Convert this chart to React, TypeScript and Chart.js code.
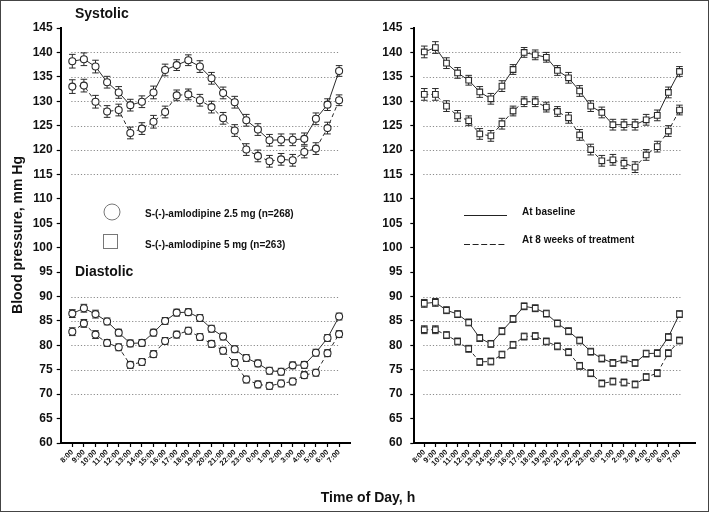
import React, { useEffect, useRef } from "react";
import { Chart, registerables } from "chart.js";
Chart.register(...registerables);

const HOURS = ["8:00","9:00","10:00","11:00","12:00","13:00","14:00","15:00","16:00","17:00","18:00","19:00","20:00","21:00","22:00","23:00","0:00","1:00","2:00","3:00","4:00","5:00","6:00","7:00"];

const LEFT_SYS_BASE = [138.2,138.6,137.1,133.9,131.8,129.2,129.9,131.8,136.4,137.4,138.4,137.1,134.7,131.7,129.8,126.1,124.2,122.0,122.1,122.1,122.3,126.4,129.3,136.2];
const LEFT_SYS_WK8 = [133.0,133.2,129.9,127.9,128.2,123.5,124.4,125.8,127.8,131.2,131.4,130.2,128.8,126.5,124.0,120.1,118.8,117.7,118.1,117.9,119.6,120.3,124.5,130.2];
const LEFT_DIA_BASE = [86.5,87.6,86.4,84.9,82.6,80.4,80.5,82.6,85.0,86.7,86.8,85.6,83.4,81.8,79.2,77.4,76.3,74.8,74.6,75.9,76.0,78.5,81.5,85.9];
const LEFT_DIA_WK8 = [82.8,84.5,82.2,80.5,79.6,76.0,76.6,78.2,80.9,82.2,83.0,81.7,80.3,78.9,76.4,73.0,72.0,71.7,72.2,72.6,73.9,74.4,78.4,82.3];

const RIGHT_SYS_BASE = [140.1,141.0,137.8,135.8,134.3,131.9,130.5,133.1,136.5,140.0,139.5,139.0,136.3,134.8,132.1,129.0,127.7,125.2,125.2,125.2,126.2,127.1,131.8,136.1];
const RIGHT_SYS_WK8 = [131.4,131.4,129.0,127.0,126.0,123.3,122.9,125.4,128.0,129.9,129.9,128.8,127.9,126.6,123.1,120.1,117.8,118.0,117.3,116.5,119.0,120.7,123.9,128.2];
const RIGHT_DIA_BASE = [88.6,88.8,87.2,86.4,84.7,81.5,80.3,82.9,85.4,88.0,87.6,86.5,84.5,82.9,81.0,78.7,77.3,76.4,77.1,76.4,78.3,78.4,81.7,86.4];
const RIGHT_DIA_WK8 = [83.2,83.2,82.1,80.8,79.3,76.6,76.7,78.1,80.1,81.8,81.9,80.8,79.8,78.6,75.8,74.3,72.2,72.6,72.4,72.0,73.5,74.3,78.4,81.0];

const LEFT_SYS_SE = [1.4,1.3,1.3,1.2,1.2,1.2,1.2,1.3,1.2,1.1,1.1,1.2,1.2,1.2,1.2,1.2,1.2,1.2,1.2,1.2,1.2,1.2,1.2,1.1];
const LEFT_DIA_SE = [0.8,0.8,0.8,0.7,0.7,0.7,0.7,0.7,0.7,0.7,0.7,0.7,0.7,0.7,0.7,0.7,0.7,0.7,0.7,0.7,0.7,0.7,0.7,0.7];
const RIGHT_SYS_SE = [1.2,1.2,1.1,1.1,1.0,1.1,1.1,1.1,1.0,1.0,1.0,1.0,1.0,1.1,1.1,1.1,1.1,1.1,1.1,1.1,1.1,1.1,1.1,1.0];
const RIGHT_DIA_SE = [0.8,0.8,0.7,0.7,0.7,0.7,0.7,0.7,0.7,0.7,0.7,0.7,0.7,0.7,0.7,0.7,0.7,0.7,0.7,0.7,0.7,0.7,0.7,0.7];

const Y_TICKS = [60,65,70,75,80,85,90,95,100,105,110,115,120,125,130,135,140,145];
const GRID_VALUES = [70,75,80,85,90,115,120,125,130,135,140];

const FONT = "'Liberation Sans', Arial, Helvetica, sans-serif";
const INK = "#2a2a2a";

const gridPlugin = {
  id: "dottedGrid",
  beforeDatasetsDraw(chart: any) {
    const { ctx } = chart;
    const xs = chart.scales.x;
    const ys = chart.scales.y;
    const x0 = xs.getPixelForValue(0) - 1;
    const x1 = xs.getPixelForValue(HOURS.length - 1) + 1;
    ctx.save();
    ctx.strokeStyle = "#8a8a8a";
    ctx.lineWidth = 1;
    ctx.setLineDash([1.2, 2]);
    for (const v of GRID_VALUES) {
      const y = Math.round(ys.getPixelForValue(v)) + 0.5;
      ctx.beginPath();
      ctx.moveTo(x0, y);
      ctx.lineTo(x1, y);
      ctx.stroke();
    }
    ctx.restore();
  },
};

const errorBarPlugin = {
  id: "errorBars",
  beforeDatasetsDraw(chart: any) {
    const { ctx } = chart;
    const xs = chart.scales.x;
    const ys = chart.scales.y;
    ctx.save();
    ctx.strokeStyle = INK;
    ctx.lineWidth = 1;
    chart.data.datasets.forEach((ds: any) => {
      const se: number[] = ds.se;
      ds.data.forEach((p: any, i: number) => {
        const x = xs.getPixelForValue(p.x);
        const yt = ys.getPixelForValue(p.y + se[i]);
        const yb = ys.getPixelForValue(p.y - se[i]);
        ctx.beginPath();
        ctx.moveTo(x, yt);
        ctx.lineTo(x, yb);
        ctx.moveTo(x - 3.3, yt);
        ctx.lineTo(x + 3.3, yt);
        ctx.moveTo(x - 3.3, yb);
        ctx.lineTo(x + 3.3, yb);
        ctx.stroke();
      });
    });
    ctx.restore();
  },
};

function makeDataset(values: number[], se: number[], dashed: boolean, style: string, radius: number) {
  return {
    data: values.map((v, i) => ({ x: i, y: v })),
    se,
    showLine: true,
    borderColor: INK,
    borderWidth: 1,
    borderDash: dashed ? [4, 3] : [],
    pointStyle: style,
    pointRadius: radius,
    pointBorderWidth: 1.1,
    pointBorderColor: INK,
    pointBackgroundColor: "#fff",
  };
}

function makeConfig(opts: {
  datasets: any[];
  yWidth: number;
  padRight: number;
  xMin: number;
  xMax: number;
  yPad: number;
  overlay: (ctx: CanvasRenderingContext2D) => void;
}) {
  return {
    type: "scatter",
    data: { datasets: opts.datasets },
    options: {
      animation: false,
      responsive: false,
      events: [],
      layout: { padding: { top: 28, left: 0, right: opts.padRight, bottom: 0 } },
      plugins: { legend: { display: false }, tooltip: { enabled: false } },
      scales: {
        x: {
          type: "linear",
          min: opts.xMin,
          max: opts.xMax,
          afterBuildTicks: (s: any) => {
            s.ticks = HOURS.map((_, i) => ({ value: i }));
          },
          afterFit: (s: any) => {
            s.height = 69;
          },
          ticks: {
            autoSkip: false,
            minRotation: 45,
            maxRotation: 45,
            padding: 1,
            color: "#111",
            font: { family: FONT, size: 7.5, weight: "bold" },
            callback: (v: number) => HOURS[Math.round(v)] ?? "",
          },
          grid: { drawOnChartArea: false, drawTicks: true, tickLength: 4, tickColor: "#000", tickWidth: 1.2 },
          border: { display: true, color: "#000", width: 2 },
        },
        y: {
          type: "linear",
          min: 60,
          max: 145,
          afterBuildTicks: (s: any) => {
            s.ticks = Y_TICKS.map((v) => ({ value: v }));
          },
          afterFit: (s: any) => {
            s.width = opts.yWidth;
          },
          ticks: {
            padding: opts.yPad,
            color: "#111",
            font: { family: FONT, size: 12, weight: "bold" },
          },
          grid: { drawOnChartArea: false, drawTicks: true, tickLength: 4, tickColor: "#000", tickWidth: 1.2 },
          border: { display: true, color: "#000", width: 2 },
        },
      },
    },
    plugins: [
      gridPlugin,
      errorBarPlugin,
      {
        id: "overlay",
        afterDraw(chart: any) {
          const ctx = chart.ctx;
          ctx.save();
          opts.overlay(ctx);
          ctx.restore();
        },
      },
    ],
  } as any;
}

export default function App() {
  const leftRef = useRef<HTMLCanvasElement>(null);
  const rightRef = useRef<HTMLCanvasElement>(null);

  useEffect(() => {
    const left = new Chart(
      leftRef.current!,
      makeConfig({
        datasets: [
          makeDataset(LEFT_SYS_BASE, LEFT_SYS_SE, false, "circle", 3.5),
          makeDataset(LEFT_SYS_WK8, LEFT_SYS_SE, true, "circle", 3.5),
          makeDataset(LEFT_DIA_BASE, LEFT_DIA_SE, false, "circle", 3.5),
          makeDataset(LEFT_DIA_WK8, LEFT_DIA_SE, true, "circle", 3.5),
        ],
        yWidth: 60.7,
        padRight: 360 - 350.7,
        xMin: -1,
        xMax: 24,
        yPad: 4,
        overlay: (ctx) => {
          ctx.fillStyle = "#111";
          ctx.textBaseline = "middle";
          ctx.textAlign = "left";
          ctx.font = `bold 14px ${FONT}`;
          ctx.fillText("Systolic", 75, 14);
          ctx.fillText("Diastolic", 75, 272);
          ctx.font = `bold 10px ${FONT}`;
          ctx.fillText("S-(-)-amlodipine 2.5 mg (n=268)", 145, 214);
          ctx.fillText("S-(-)-amlodipine 5 mg (n=263)", 145, 245);
          ctx.strokeStyle = "#777";
          ctx.lineWidth = 1;
          ctx.beginPath();
          ctx.arc(112, 212, 8, 0, Math.PI * 2);
          ctx.stroke();
          ctx.strokeRect(103.5, 234.5, 14, 14);
          ctx.save();
          ctx.translate(18, 235);
          ctx.rotate(-Math.PI / 2);
          ctx.textAlign = "center";
          ctx.font = `bold 14px ${FONT}`;
          ctx.fillText("Blood pressure, mm Hg", 0, 0);
          ctx.restore();
        },
      })
    );
    const right = new Chart(
      rightRef.current!,
      makeConfig({
        datasets: [
          makeDataset(RIGHT_SYS_BASE, RIGHT_SYS_SE, false, "rect", 4),
          makeDataset(RIGHT_SYS_WK8, RIGHT_SYS_SE, true, "rect", 4),
          makeDataset(RIGHT_DIA_BASE, RIGHT_DIA_SE, false, "rect", 4),
          makeDataset(RIGHT_DIA_WK8, RIGHT_DIA_SE, true, "rect", 4),
        ],
        yWidth: 414.3 - 360,
        padRight: 709 - 695,
        xMin: -0.9,
        xMax: 24.4,
        yPad: 8,
        overlay: (ctx) => {
          ctx.fillStyle = "#111";
          ctx.strokeStyle = "#222";
          ctx.lineWidth = 1;
          ctx.beginPath();
          ctx.moveTo(104, 215.5);
          ctx.lineTo(147, 215.5);
          ctx.stroke();
          ctx.setLineDash([6, 2.6]);
          ctx.beginPath();
          ctx.moveTo(104, 244.5);
          ctx.lineTo(147, 244.5);
          ctx.stroke();
          ctx.setLineDash([]);
          ctx.textBaseline = "middle";
          ctx.textAlign = "left";
          ctx.font = `bold 10px ${FONT}`;
          ctx.fillText("At baseline", 162, 212);
          ctx.fillText("At 8 weeks of treatment", 162, 240.5);
        },
      })
    );
    return () => {
      left.destroy();
      right.destroy();
    };
  }, []);

  return (
    <div style={{ position: "absolute", left: 0, top: 0, width: 709, height: 512, background: "#fff", overflow: "hidden" }}>
      <canvas ref={leftRef} width={360} height={512} style={{ position: "absolute", left: 0, top: 0, width: 360, height: 512 }} />
      <canvas ref={rightRef} width={349} height={512} style={{ position: "absolute", left: 360, top: 0, width: 349, height: 512 }} />
      <div
        style={{
          position: "absolute",
          left: 368,
          top: 497,
          transform: "translate(-50%, -50%)",
          font: `bold 14px ${FONT}`,
          color: "#111",
          whiteSpace: "nowrap",
        }}
      >
        Time of Day, h
      </div>
      <div
        style={{
          position: "absolute",
          left: 0,
          top: 0,
          width: 709,
          height: 512,
          boxSizing: "border-box",
          border: "1.5px solid #444",
          pointerEvents: "none",
        }}
      />
    </div>
  );
}
